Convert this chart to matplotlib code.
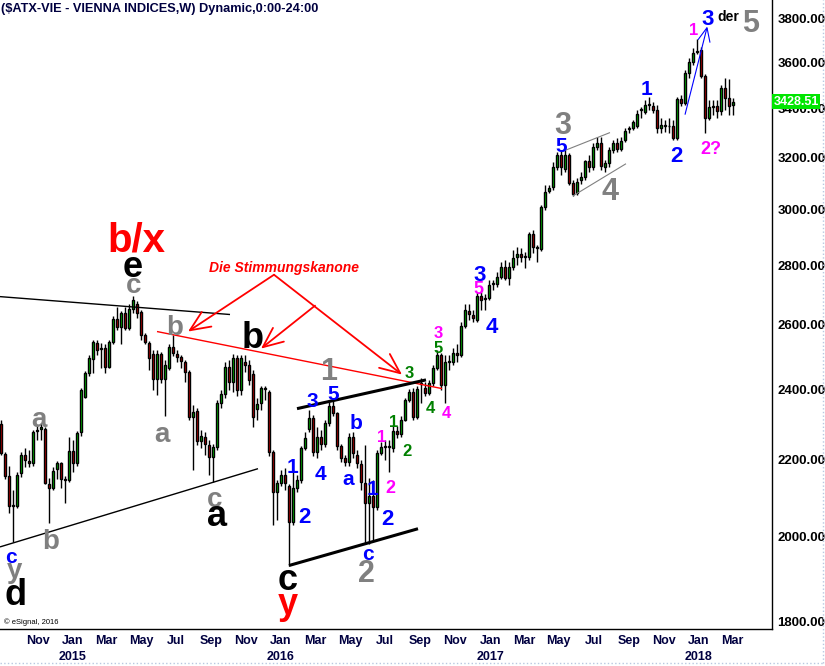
import numpy as np
import pandas as pd
import matplotlib
matplotlib.use('Agg')
import matplotlib.pyplot as plt
import matplotlib.dates as mdates
from matplotlib.ticker import FixedLocator, NullLocator, FuncFormatter, FixedFormatter
from matplotlib.transforms import blended_transform_factory

plt.rcParams['font.family'] = ['Liberation Sans', 'DejaVu Sans']
plt.rcParams['font.weight'] = 'bold'

# weekly candles, $ATX-VIE
weeks = pd.date_range('2014-08-29', periods=184, freq='W-FRI')

opens = [2301, 2217, 2157, 2078, 2078, 2165, 2214, 2197, 2192, 2281,
         2287, 2287, 2136, 2125, 2176, 2192, 2149, 2146, 2225, 2192,
         2278, 2379, 2451, 2493, 2544, 2525, 2528, 2469, 2547, 2620,
         2595, 2640, 2591, 2653, 2670, 2643, 2569, 2544, 2509, 2432,
         2509, 2432, 2466, 2531, 2509, 2500, 2484, 2454, 2321, 2338,
         2252, 2264, 2242, 2208, 2236, 2361, 2388, 2469, 2423, 2496,
         2400, 2484, 2475, 2448, 2344, 2361, 2403, 2394, 2222, 2115,
         2138, 2160, 2130, 2037, 2125, 2146, 2233, 2287, 2318, 2222,
         2264, 2244, 2304, 2353, 2330, 2239, 2206, 2195, 2264, 2214,
         2189, 2138, 2086, 2104, 2076, 2220, 2236, 2236, 2233, 2281,
         2272, 2312, 2370, 2394, 2321, 2417, 2406, 2391, 2420, 2466,
         2506, 2414, 2484, 2484, 2512, 2506, 2598, 2647, 2634, 2617,
         2696, 2686, 2690, 2737, 2737, 2760, 2795, 2757, 2795, 2830,
         2840, 2830, 2830, 2912, 2861, 2858, 3010, 3070, 3086, 3163,
         3211, 3155, 3211, 3101, 3063, 3113, 3124, 3187, 3163, 3243,
         3259, 3163, 3179, 3231, 3259, 3235, 3271, 3316, 3320, 3328,
         3395, 3387, 3416, 3412, 3395, 3320, 3328, 3328, 3328, 3279,
         3441, 3424, 3553, 3603, 3648, 3657, 3541, 3362, 3408, 3412,
         3391, 3489, 3446, 3416]
highs = [2312, 2222, 2184, 2120, 2168, 2222, 2233, 2228, 2284, 2298,
         2304, 2290, 2151, 2181, 2197, 2195, 2157, 2264, 2255, 2281,
         2406, 2457, 2506, 2553, 2553, 2544, 2538, 2553, 2630, 2660,
         2647, 2657, 2667, 2696, 2680, 2650, 2575, 2550, 2522, 2522,
         2515, 2490, 2538, 2569, 2522, 2506, 2490, 2460, 2356, 2347,
         2284, 2278, 2255, 2244, 2370, 2400, 2484, 2490, 2509, 2506,
         2506, 2506, 2490, 2460, 2376, 2411, 2411, 2400, 2228, 2146,
         2173, 2179, 2136, 2173, 2160, 2239, 2278, 2341, 2327, 2290,
         2284, 2312, 2364, 2376, 2335, 2244, 2214, 2275, 2278, 2228,
         2200, 2242, 2151, 2146, 2228, 2250, 2255, 2255, 2298, 2295,
         2324, 2376, 2403, 2406, 2411, 2435, 2423, 2429, 2475, 2522,
         2512, 2506, 2506, 2528, 2538, 2611, 2667, 2667, 2650, 2709,
         2709, 2703, 2750, 2750, 2777, 2812, 2819, 2812, 2854, 2865,
         2861, 2847, 2919, 2926, 2872, 3018, 3094, 3094, 3183, 3223,
         3231, 3231, 3219, 3113, 3121, 3143, 3191, 3211, 3259, 3283,
         3283, 3191, 3243, 3271, 3279, 3283, 3320, 3328, 3353, 3395,
         3408, 3437, 3450, 3429, 3416, 3362, 3353, 3362, 3353, 3450,
         3459, 3567, 3621, 3666, 3707, 3671, 3549, 3437, 3437, 3437,
         3502, 3532, 3528, 3446]
lows = [2214, 2149, 2060, 1986, 2073, 2154, 2181, 2181, 2184, 2255,
        2255, 2136, 2035, 2120, 2149, 2125, 2086, 2141, 2168, 2184,
        2266, 2376, 2442, 2451, 2506, 2466, 2451, 2466, 2541, 2585,
        2541, 2585, 2585, 2640, 2624, 2553, 2538, 2460, 2400, 2385,
        2420, 2324, 2460, 2503, 2484, 2466, 2423, 2312, 2173, 2242,
        2233, 2214, 2160, 2141, 2228, 2347, 2376, 2400, 2394, 2382,
        2385, 2454, 2414, 2292, 2312, 2341, 2370, 2211, 2030, 2042,
        2130, 2120, 1930, 2030, 2115, 2138, 2228, 2278, 2211, 2206,
        2228, 2236, 2295, 2324, 2228, 2195, 2184, 2184, 2206, 2179,
        2120, 1981, 1981, 1993, 2068, 2214, 2200, 2168, 2222, 2261,
        2264, 2307, 2364, 2312, 2315, 2361, 2382, 2385, 2411, 2460,
        2400, 2361, 2460, 2475, 2484, 2500, 2591, 2617, 2611, 2611,
        2650, 2650, 2683, 2716, 2726, 2753, 2750, 2733, 2784, 2802,
        2812, 2791, 2819, 2844, 2812, 2851, 2999, 3063, 3074, 3151,
        3132, 3143, 3094, 3051, 3055, 3098, 3113, 3143, 3151, 3231,
        3151, 3143, 3163, 3219, 3223, 3227, 3263, 3300, 3312, 3320,
        3362, 3378, 3395, 3383, 3300, 3300, 3304, 3300, 3271, 3271,
        3412, 3416, 3532, 3589, 3639, 3532, 3300, 3353, 3374, 3362,
        3374, 3395, 3374, 3374]
closes = [2220, 2157, 2078, 2081, 2160, 2214, 2200, 2192, 2278, 2284,
          2290, 2138, 2125, 2170, 2192, 2149, 2146, 2225, 2192, 2275,
          2400, 2451, 2496, 2547, 2522, 2528, 2469, 2547, 2620, 2595,
          2640, 2591, 2653, 2683, 2640, 2569, 2547, 2496, 2432, 2509,
          2432, 2475, 2531, 2512, 2500, 2487, 2454, 2321, 2335, 2252,
          2266, 2244, 2208, 2236, 2361, 2388, 2469, 2423, 2496, 2400,
          2496, 2475, 2429, 2321, 2358, 2406, 2403, 2222, 2115, 2138,
          2160, 2138, 2037, 2125, 2146, 2233, 2261, 2318, 2222, 2264,
          2244, 2304, 2353, 2332, 2239, 2206, 2195, 2264, 2220, 2192,
          2141, 2086, 2104, 2076, 2220, 2236, 2239, 2238, 2281, 2272,
          2312, 2370, 2394, 2321, 2403, 2420, 2391, 2420, 2466, 2506,
          2414, 2484, 2486, 2512, 2506, 2598, 2650, 2637, 2624, 2696,
          2683, 2688, 2733, 2739, 2760, 2795, 2757, 2795, 2826, 2840,
          2830, 2832, 2912, 2865, 2863, 3010, 3066, 3082, 3163, 3211,
          3163, 3211, 3101, 3059, 3105, 3124, 3187, 3163, 3243, 3259,
          3167, 3179, 3231, 3259, 3235, 3267, 3308, 3318, 3345, 3378,
          3397, 3416, 3418, 3395, 3320, 3332, 3330, 3327, 3279, 3441,
          3424, 3553, 3603, 3643, 3650, 3541, 3362, 3408, 3410, 3391,
          3489, 3446, 3412, 3428.51]

yticks = [1800, 2000, 2200, 2400, 2600, 2800, 3000, 3200, 3400, 3600, 3800]
month_starts = pd.date_range('2014-11-01', '2018-03-01', freq='2MS')

RED, BLUE, GRAY, MAG, GRN, BLK = '#ff0000', '#0000ff', '#808080', '#ff00ff', '#008000', '#000000'

# wave labels: text, week index, price level, colour, size
labels = [
    ("b/x", 33.75, 2847, RED, 29), ("e", 33, 2760, BLK, 26), ("c", 33.25, 2706, GRAY, 20),
    ("b", 43.5, 2569, GRAY, 20), ("b", 63, 2528, BLK, 26), ("a", 9.5, 2292, GRAY, 20),
    ("a", 40.25, 2250, GRAY, 20), ("c", 53.5, 2076, GRAY, 20), ("a", 54, 2027, BLK, 26),
    ("b", 12.5, 1970, GRAY, 20), ("c", 2.5, 1937, BLUE, 15), ("y", 3.5, 1900, GRAY, 20),
    ("d", 3.75, 1838, BLK, 26), ("c", 71.75, 1873, BLK, 26), ("y", 71.75, 1818, RED, 26),
    ("2", 91.25, 1890, GRAY, 22), ("c", 91.75, 1944, BLUE, 15), ("1", 82, 2429, GRAY, 22),
    ("3", 77.75, 2350, BLUE, 15), ("5", 83, 2370, BLUE, 15), ("1", 72.75, 2165, BLUE, 15),
    ("4", 79.75, 2146, BLUE, 15), ("2", 75.75, 2035, BLUE, 16), ("b", 88.75, 2287, BLUE, 15),
    ("a", 86.75, 2133, BLUE, 15), ("1", 92.75, 2107, BLUE, 15), ("2", 96.5, 2030, BLUE, 16),
    ("1", 95.25, 2250, MAG, 12), ("2", 97.25, 2112, MAG, 13), ("1", 98.25, 2290, GRN, 12),
    ("2", 101.5, 2211, GRN, 12), ("3", 102, 2435, GRN, 12), ("4", 107.25, 2332, GRN, 12),
    ("4", 111.25, 2318, MAG, 12), ("5", 109.25, 2512, GRN, 12), ("3", 109.25, 2557, MAG, 12),
    ("3", 119.75, 2747, BLUE, 16), ("5", 119.25, 2703, MAG, 13), ("4", 122.75, 2575, BLUE, 16),
    ("3", 140.5, 3296, GRAY, 22), ("5", 140, 3223, BLUE, 15), ("4", 152.25, 3036, GRAY, 22),
    ("1", 161.5, 3458, BLUE, 15), ("2", 168.75, 3183, BLUE, 16), ("1", 173.25, 3725, MAG, 12),
    ("3", 176.75, 3772, BLUE, 16), ("der", 181.75, 3791, BLK, 10), ("5", 187.5, 3740, GRAY, 22),
    ("2?", 177.5, 3215, MAG, 13),
]

# trend lines: week0, price0, week1, price1, colour, width
trend = [
    (-0.25, 2693, 57.25, 2634, BLK, 1.0),
    (-0.25, 1975, 64.25, 2176, BLK, 1.0),
    (39, 2579, 110.25, 2403, RED, 1.0),
    (74, 2344, 106.25, 2429, BLK, 2.2),
    (72, 1930, 104.25, 2020, BLK, 2.2),
    (140.25, 3223, 152.25, 3300, GRAY, 0.8),
    (143, 3051, 156.25, 3175, GRAY, 0.8),
    (171, 3374, 176.5, 3758, BLUE, 0.8),
    (174.25, 3702, 176.5, 3758, BLUE, 0.8),
    (176.5, 3758, 177.25, 3689, BLUE, 0.8),
]

# red arrows (from -> to)
arrows = [
    ((68.25, 2767), (46.75, 2579)),
    ((68.25, 2767), (100.25, 2445)),
    ((78.5, 2663), (65, 2525)),
]

x = mdates.date2num(weeks)


def wk(k):
    return x[0] + 7 * k


o = np.array(opens, float)
c = np.array(closes, float)
h = np.array(highs, float)
l = np.array(lows, float)
up = c >= o

fig = plt.figure(figsize=(8.25, 6.66), dpi=100)
ax = fig.add_axes([0, 1 - 629 / 666, 772 / 825, 629 / 666])
ax.set_yscale('log')

ax.vlines(x, l, h, color='black', lw=1, zorder=2)
ax.bar(x, np.maximum(np.abs(c - o), 0.5), bottom=np.minimum(o, c), width=5.0,
       color=np.where(up, '#00cc00', '#cc0000'), edgecolor='black', linewidth=1.0, zorder=3)

for k0, p0, k1, p1, col, lw in trend:
    ax.plot([wk(k0), wk(k1)], [p0, p1], color=col, lw=lw, zorder=4, solid_capstyle='butt')

for (k0, p0), (k1, p1) in arrows:
    ax.annotate('', xy=(wk(k1), p1), xytext=(wk(k0), p0),
                arrowprops=dict(arrowstyle='->,head_length=0.8,head_width=0.35', color=RED,
                                lw=1.3, mutation_scale=18, shrinkA=0, shrinkB=0), zorder=4)

ax.text(wk(70.75), 2777, 'Die Stimmungskanone', color=RED, fontsize=10, style='italic',
        ha='center', va='baseline', zorder=5)

for txt, k, p, col, size in labels:
    ax.text(wk(k), p, txt, color=col, fontsize=size, ha='center', va='baseline', zorder=5)

ax.set_xlim(wk(-0.25), wk(192.75))
ax.set_ylim(1784, 3889)

# axes styling
for s in ['top', 'left']:
    ax.spines[s].set_visible(False)
for s in ['right', 'bottom']:
    ax.spines[s].set_linewidth(1)
    ax.spines[s].set_color('black')

ax.yaxis.tick_right()
ax.yaxis.set_major_locator(FixedLocator(yticks))
ax.yaxis.set_minor_locator(NullLocator())
ax.yaxis.set_major_formatter(FuncFormatter(lambda v, pos: f'{v:.2f}'))
ax.tick_params(axis='y', length=0, pad=4, labelsize=9.5, labelcolor='black')

xlabels = [m.strftime('%b') + ('\n' + str(m.year) if m.month == 1 else '') for m in month_starts]
ax.xaxis.set_major_locator(FixedLocator(mdates.date2num(month_starts)))
ax.xaxis.set_major_formatter(FixedFormatter(xlabels))
ax.xaxis.set_minor_locator(NullLocator())
ax.tick_params(axis='x', length=0, pad=4, labelsize=9, labelcolor='#000040')
for lbl in ax.get_xticklabels():
    lbl.set_linespacing(1.45)

# last price tag
ax.text(1.002, closes[-1], f'{closes[-1]:.2f}', transform=blended_transform_factory(ax.transAxes, ax.transData),
        color='white', fontsize=9, ha='left', va='center', zorder=6, clip_on=False,
        bbox=dict(boxstyle='square,pad=0.1', fc='#00e600', ec='none'))

fig.text(0.001, 1 - 9 / 666, '($ATX-VIE - VIENNA INDICES,W) Dynamic,0:00-24:00',
         fontsize=9.2, color='#000040', ha='left', va='center')
fig.text(4 / 825, 1 - 622 / 666, '\u00a9 eSignal, 2016', fontsize=5.5, fontweight='normal',
         color='black', ha='left', va='center')

# faint outer frame (right and bottom)
fig.add_artist(plt.Line2D([0.997, 0.997], [0.004, 1], transform=fig.transFigure, color='#b8c8e0', lw=1, ls=':'))
fig.add_artist(plt.Line2D([0, 0.997], [0.004, 0.004], transform=fig.transFigure, color='#b8c8e0', lw=1, ls=':'))

fig.savefig('out.png', dpi=100, facecolor='white')
